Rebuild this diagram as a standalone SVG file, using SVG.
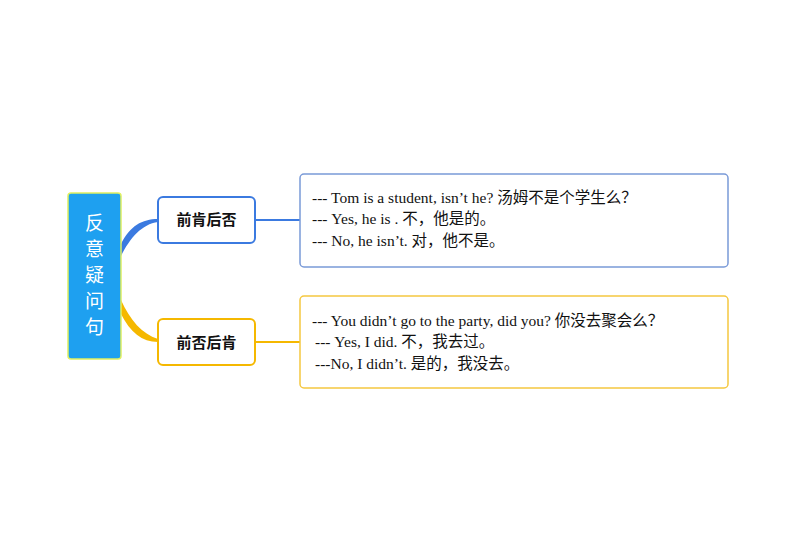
<svg xmlns="http://www.w3.org/2000/svg" width="794" height="560" viewBox="0 0 794 560">
<style>
.cn{font-family:"Liberation Serif","Noto Sans CJK SC",serif;font-size:15.5px;fill:#111}
.b{font-family:"Noto Sans CJK SC",sans-serif;font-size:15px;font-weight:bold;fill:#111}
</style>
<rect width="794" height="560" fill="#fff"/>
<g id="connectors">
<path d="M121,256 L121,244 C130,226 142,219 158,219 L158,222 C142,224 130,238 121,256 Z" fill="#3b7ae0"/>
<path d="M121,300 L121,314 C130,332 142,342 158,342 L158,339 C142,334 130,320 121,300 Z" fill="#f5b800"/>
<line x1="255" y1="220" x2="300" y2="220" stroke="#3b7ae0" stroke-width="2"/>
<line x1="255" y1="342" x2="300" y2="342" stroke="#f5b800" stroke-width="2"/>
</g>
<g id="root"><rect x="68" y="193" width="53" height="166" rx="3" fill="#1ea0f0" stroke="#e0f060" stroke-width="1.5"/>
<text x="94.5" y="230" text-anchor="middle" font-family="Noto Sans CJK SC,sans-serif" font-size="19" fill="#fff"><tspan x="94.5">反</tspan><tspan x="94.5" dy="26">意</tspan><tspan x="94.5" dy="26">疑</tspan><tspan x="94.5" dy="26">问</tspan><tspan x="94.5" dy="26">句</tspan></text></g>
<g id="n1"><rect x="158" y="197" width="97" height="46" rx="5" fill="#fff" stroke="#3b7ae0" stroke-width="2"/><text x="206.5" y="225" text-anchor="middle" class="b">前肯后否</text></g>
<g id="n2"><rect x="158" y="319" width="97" height="46" rx="5" fill="#fff" stroke="#f5b800" stroke-width="2"/><text x="206.5" y="348" text-anchor="middle" class="b">前否后肯</text></g>
<g id="d1"><rect x="300" y="174" width="428" height="93" rx="4" fill="#fff" stroke="#7a9ad8" stroke-width="1.5"/>
<text class="cn"><tspan x="312" y="203">--- Tom is a student, isn’t he? 汤姆不是个学生么？</tspan><tspan x="312" y="224">--- Yes, he is .  不，他是的。</tspan><tspan x="312" y="246">--- No, he isn’t. 对，他不是。</tspan></text></g>
<g id="d2"><rect x="300" y="296" width="428" height="92" rx="4" fill="#fff" stroke="#f5c840" stroke-width="1.5"/>
<text class="cn"><tspan x="312" y="326">--- You didn’t go to the party, did you? 你没去聚会么？</tspan><tspan x="315" y="347">--- Yes, I did. 不，我去过。</tspan><tspan x="315" y="369">---No, I didn’t. 是的，我没去。</tspan></text></g>
</svg>
